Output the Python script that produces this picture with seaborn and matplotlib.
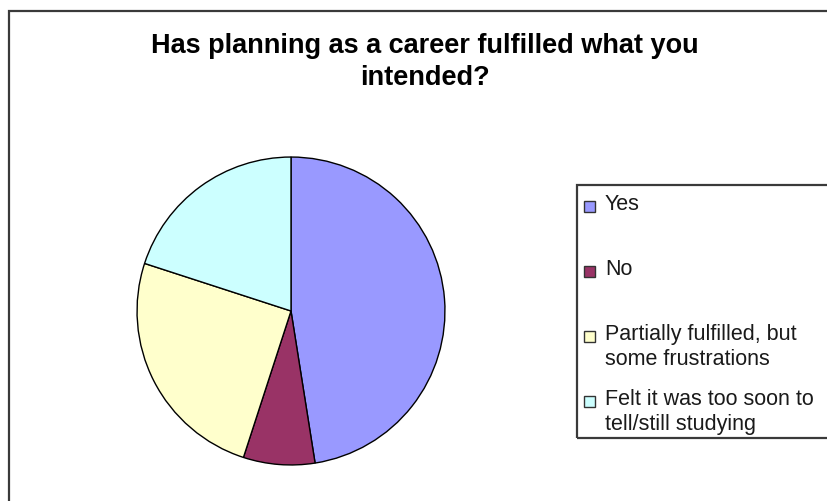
import matplotlib
matplotlib.use("Agg")
import matplotlib.pyplot as plt
from matplotlib.patches import Rectangle
import seaborn as sns

title = "Has planning as a career fulfilled what you\nintended?"
categories = ["Yes", "No", "Partially fulfilled, but\nsome frustrations",
              "Felt it was too soon to\ntell/still studying"]
values = [47.5, 7.5, 25.0, 20.0]
colors = ["#9999FF", "#993366", "#FFFFCC", "#CCFFFF"]

sns.set_theme(style="white")
plt.rcParams["font.family"] = ["Liberation Sans", "DejaVu Sans"]

W, H, DPI = 827, 501, 100
fig = plt.figure(figsize=(W / DPI, H / DPI), dpi=DPI)
fig.patch.set_facecolor("white")

def fx(px):
    return px / W

def fy(py):
    return (H - py) / H

# outer chart frame (extends beyond right/bottom edges)
fig.patches.append(Rectangle((fx(9), fy(560)), fx(900), (560 - 11) / H,
                             transform=fig.transFigure, fill=False,
                             edgecolor="#3a3a3a", linewidth=1.6, zorder=0))

# title
fig.text(fx(425), fy(62), title, ha="center", va="center", fontsize=19.5,
         fontweight="bold", color="black", linespacing=1.3)

# pie
cx, cy, r = 291, 311, 155.5
ax = fig.add_axes([fx(cx - r), fy(cy + r), 2 * r / W, 2 * r / H])
pal = sns.color_palette(colors)
ax.pie(values, colors=pal, startangle=90, counterclock=False, radius=1,
       wedgeprops=dict(edgecolor="black", linewidth=1.0))
ax.set_xlim(-1.01, 1.01)
ax.set_ylim(-1.01, 1.01)
ax.set_aspect("auto")
ax.axis("off")

# legend frame
fig.patches.append(Rectangle((fx(577), fy(438)), fx(400), (438 - 185) / H,
                             transform=fig.transFigure, fill=False,
                             edgecolor="#3a3a3a", linewidth=1.6, zorder=1))

# legend entries
fs = 15.5
for i, (lab, col) in enumerate(zip(categories, pal)):
    yc = 205 + 65 * i
    fig.patches.append(Rectangle((fx(584), fy(yc + 6.5)), 11 / W, 11 / H,
                                 transform=fig.transFigure, facecolor=col,
                                 edgecolor="#333333", linewidth=1.0, zorder=2))
    fig.text(fx(605), fy(yc - 11), lab, ha="left", va="top", fontsize=fs,
             color="#1a1a1a", linespacing=1.22)

fig.savefig("out.png", dpi=DPI, facecolor="white")
